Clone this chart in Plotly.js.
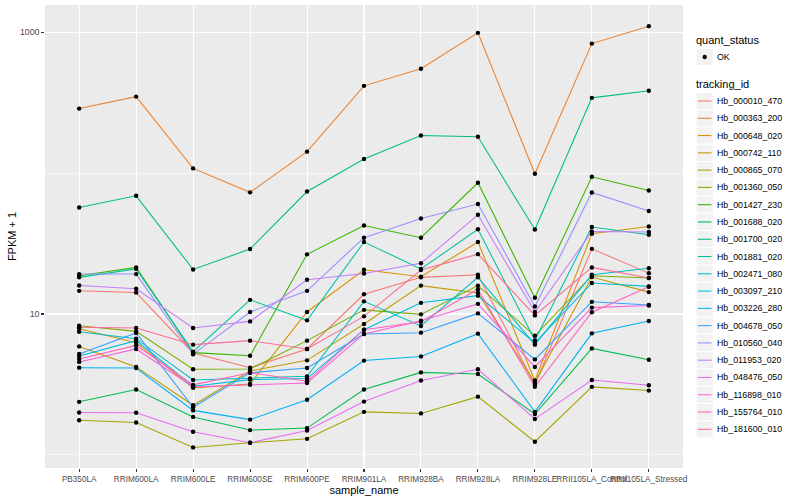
<!DOCTYPE html>
<html><head><meta charset="utf-8">
<script src="https://cdn.plot.ly/plotly-3.0.1.min.js"></script>
<style>html,body{margin:0;padding:0;background:#fff}#chart{width:800px;height:500px}</style>
</head><body><div id="chart"></div>
<script>
const samples = ['PB350LA','RRIM600LA','RRIM600LE','RRIM600SE','RRIM600PE','RRIM901LA','RRIM928BA','RRIM928LA','RRIM928LE','RRII105LA_Control','RRII105LA_Stressed'];
const trackingIds = ['Hb_000010_470','Hb_000363_200','Hb_000648_020','Hb_000742_110','Hb_000865_070','Hb_001360_050','Hb_001427_230','Hb_001688_020','Hb_001700_020','Hb_001881_020','Hb_002471_080','Hb_003097_210','Hb_003226_280','Hb_004678_050','Hb_010560_040','Hb_011953_020','Hb_048476_050','Hb_116898_010','Hb_155764_010','Hb_181600_010'];
const colors = ['#F8766D','#EA8331','#D89000','#C09B00','#A3A500','#7CAE00','#39B600','#00BB4E','#00BF7D','#00C1A3','#00BFC4','#00BAE0','#00B0F6','#35A2FF','#9590FF','#C77CFF','#E76BF3','#FA62DB','#FF62BC','#FF6C91'];

// FPKM + 1 per sample, for each tracking_id
const Hb_000010_470 = [14.6, 14.2, 5.29, 4.16, 5.65, 13.8, 18.2, 19.0, 3.15, 29.0, 19.5];
const Hb_000363_200 = [287, 349, 108, 73, 142, 416, 550, 989, 99, 830, 1104];
const Hb_000648_020 = [7.87, 6.26, 2.99, 3.19, 10.33, 20.6, 18.4, 32.4, 3.37, 37.1, 41.8];
const Hb_000742_110 = [5.89, 4.21, 2.25, 3.94, 4.69, 8.50, 15.9, 14.1, 3.26, 18.3, 14.3];
const Hb_000865_070 = [1.76, 1.70, 1.13, 1.22, 1.30, 2.02, 1.97, 2.59, 1.24, 3.04, 2.86];
const Hb_001360_050 = [8.26, 7.53, 4.05, 4.07, 6.47, 10.7, 9.94, 15.9, 7.0, 18.7, 18.0];
const Hb_001427_230 = [18.7, 21.4, 5.32, 5.06, 26.5, 42.5, 34.8, 85.4, 13.05, 94.1, 75.3];
const Hb_001688_020 = [2.38, 2.91, 1.86, 1.50, 1.55, 2.91, 3.85, 3.75, 1.95, 5.70, 4.74];
const Hb_001700_020 = [57, 69, 20.7, 28.9, 74, 126, 185, 181, 39.8, 342, 384];
const Hb_001881_020 = [18.2, 20.9, 5.40, 12.6, 9.01, 32.4, 20.9, 39.9, 6.5, 41.4, 36.5];
const Hb_002471_080 = [7.49, 6.68, 3.40, 3.49, 3.61, 12.3, 8.22, 18.2, 6.06, 19.0, 21.1];
const Hb_003097_210 = [5.04, 6.47, 3.07, 3.42, 3.48, 7.74, 12.0, 13.5, 6.23, 16.6, 15.7];
const Hb_003226_280 = [4.16, 4.14, 2.07, 1.78, 2.46, 4.67, 5.00, 7.25, 2.02, 7.29, 8.92];
const Hb_004678_050 = [5.21, 7.33, 2.18, 3.83, 4.14, 7.22, 7.37, 10.1, 4.76, 12.2, 11.6];
const Hb_010560_040 = [19.2, 19.2, 5.17, 10.33, 14.6, 34.8, 47.6, 60.3, 11.3, 72.9, 53.8];
const Hb_011953_020 = [15.95, 15.1, 7.96, 8.86, 17.5, 19.4, 22.9, 50.6, 10.33, 38.5, 38.2];
const Hb_048476_050 = [2.00, 1.99, 1.46, 1.22, 1.49, 2.39, 3.37, 4.05, 1.80, 3.40, 3.12];
const Hb_116898_010 = [4.57, 5.65, 3.04, 3.15, 3.24, 7.22, 8.97, 11.8, 4.21, 11.1, 11.5];
const Hb_155764_010 = [4.80, 5.99, 3.14, 3.83, 3.33, 7.74, 8.82, 15.0, 3.04, 10.3, 15.6];
const Hb_181600_010 = [8.04, 7.96, 6.06, 6.47, 5.65, 9.62, 20.5, 26.6, 9.77, 21.4, 18.0];

const yTickVals = [10, 1000];
const yTickText = ['10', '1000'];
const yMinorVals = [1, 100];
const quantStatus = ['OK'];

const series = [Hb_000010_470, Hb_000363_200, Hb_000648_020, Hb_000742_110, Hb_000865_070, Hb_001360_050, Hb_001427_230, Hb_001688_020, Hb_001700_020, Hb_001881_020, Hb_002471_080, Hb_003097_210, Hb_003226_280, Hb_004678_050, Hb_010560_040, Hb_011953_020, Hb_048476_050, Hb_116898_010, Hb_155764_010, Hb_181600_010];

const FONT = '"Liberation Sans", Arial, Helvetica, sans-serif';
const M = {l: 45, r: 116.5, t: 5, b: 32};
const W = 800, H = 500;
const px2x = px => (px - M.l) / (W - M.l - M.r);
const py2y = py => (H - M.b - py) / (H - M.t - M.b);

const traces = [];
series.forEach((vals, i) => traces.push({
  x: samples, y: vals, type: 'scatter', mode: 'lines', name: trackingIds[i],
  line: {color: colors[i], width: 1.07}, showlegend: false, hoverinfo: 'x+y+name'
}));
series.forEach((vals, i) => traces.push({
  x: samples, y: vals, type: 'scatter', mode: 'markers', name: quantStatus[0],
  marker: {color: '#000000', size: 4.4}, showlegend: false, hoverinfo: 'skip'
}));

// manual ggplot-style legend
const shapes = [];
const annotations = [];
const keyX0 = 696.6, keyX1 = 713.8, keyH = 17.28;
annotations.push({xref: 'paper', yref: 'paper', x: px2x(695), y: py2y(40.5), xanchor: 'left', yanchor: 'middle',
  text: 'quant_status', showarrow: false, font: {family: FONT, size: 11, color: '#000'}});
shapes.push({type: 'rect', xref: 'paper', yref: 'paper', x0: px2x(keyX0), x1: px2x(keyX1), y0: py2y(57 - keyH/2), y1: py2y(57 + keyH/2),
  fillcolor: '#F2F2F2', line: {color: '#FFFFFF', width: 1}, layer: 'above'});
shapes.push({type: 'circle', xref: 'paper', yref: 'paper', x0: px2x(705.2 - 2.2), x1: px2x(705.2 + 2.2), y0: py2y(57 - 2.2), y1: py2y(57 + 2.2),
  fillcolor: '#000', line: {width: 0}, layer: 'above'});
annotations.push({xref: 'paper', yref: 'paper', x: px2x(715.5), y: py2y(57), xanchor: 'left', yanchor: 'middle',
  text: quantStatus[0], showarrow: false, font: {family: FONT, size: 8.8, color: '#000'}});
annotations.push({xref: 'paper', yref: 'paper', x: px2x(695), y: py2y(84.5), xanchor: 'left', yanchor: 'middle',
  text: 'tracking_id', showarrow: false, font: {family: FONT, size: 11, color: '#000'}});
trackingIds.forEach((id, i) => {
  const cy = 101 + keyH * i;
  shapes.push({type: 'rect', xref: 'paper', yref: 'paper', x0: px2x(keyX0), x1: px2x(keyX1), y0: py2y(cy - keyH/2), y1: py2y(cy + keyH/2),
    fillcolor: '#F2F2F2', line: {color: '#FFFFFF', width: 1}, layer: 'above'});
  shapes.push({type: 'line', xref: 'paper', yref: 'paper', x0: px2x(698.3), x1: px2x(712), y0: py2y(cy), y1: py2y(cy),
    line: {color: colors[i], width: 1.07}, layer: 'above'});
  annotations.push({xref: 'paper', yref: 'paper', x: px2x(715.5), y: py2y(cy), xanchor: 'left', yanchor: 'middle',
    text: id, showarrow: false, font: {family: FONT, size: 8.8, color: '#000'}});
});

const layout = {
  width: W, height: H,
  margin: M,
  paper_bgcolor: '#FFFFFF', plot_bgcolor: '#EBEBEB',
  font: {family: FONT, size: 8.8, color: '#000'},
  showlegend: false,
  xaxis: {
    type: 'category', categoryorder: 'array', categoryarray: samples,
    range: [-0.6, 10.6], showgrid: true, gridcolor: '#FFFFFF', gridwidth: 1.07,
    zeroline: false, showline: false, ticks: 'outside', ticklen: 2.75, tickwidth: 1.07, tickcolor: '#333333',
    tickangle: 0, tickfont: {family: FONT, size: 8.2, color: '#4D4D4D'},
    title: {text: 'sample_name', font: {family: FONT, size: 11, color: '#000'}, standoff: 0},
    automargin: false, fixedrange: true
  },
  yaxis: {
    type: 'log', range: [-0.093, 3.193],
    tickmode: 'array', tickvals: yTickVals, ticktext: yTickText,
    showgrid: true, gridcolor: '#FFFFFF', gridwidth: 1.07,
    minor: {tickmode: 'array', tickvals: yMinorVals, showgrid: true, gridcolor: '#FFFFFF', gridwidth: 0.53, ticks: ''},
    zeroline: false, showline: false, ticks: 'outside', ticklen: 2.75, tickwidth: 1.07, tickcolor: '#333333',
    tickfont: {family: FONT, size: 8.8, color: '#4D4D4D'},
    title: {text: 'FPKM + 1', font: {family: FONT, size: 11, color: '#000'}, standoff: 1},
    automargin: false, fixedrange: true
  },
  shapes: shapes,
  annotations: annotations
};

Plotly.newPlot('chart', traces, layout, {displayModeBar: false, staticPlot: true});
</script>
</body></html>
